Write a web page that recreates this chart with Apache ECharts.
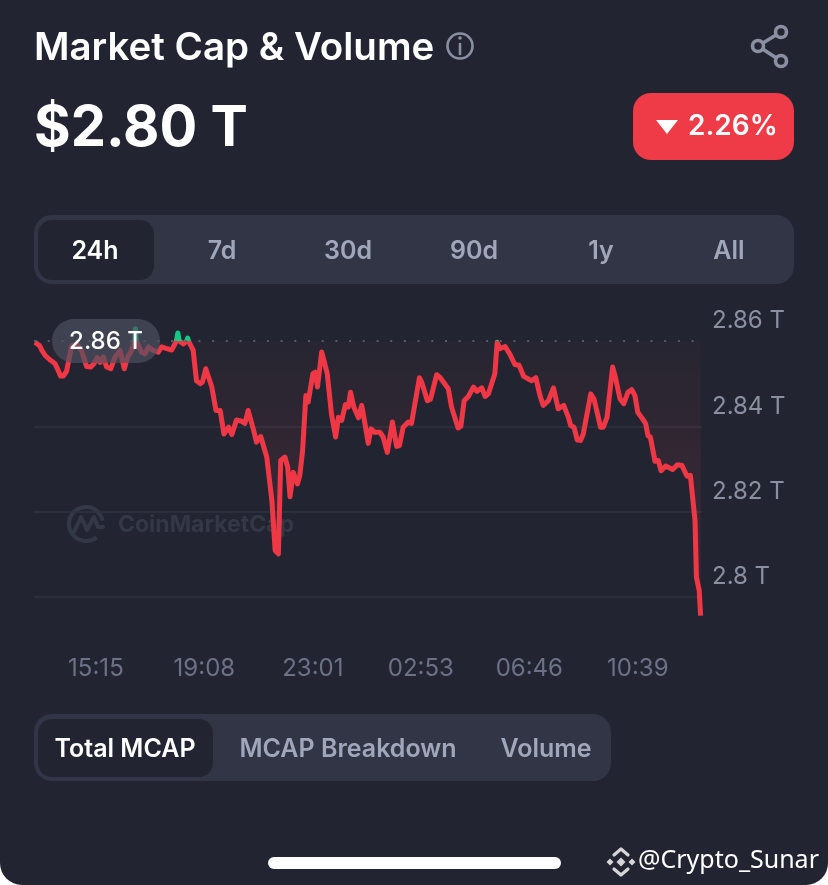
<!DOCTYPE html>
<html><head><meta charset="utf-8">
<style>html,body{margin:0;padding:0;background:#fff}#c{width:828px;height:885px;overflow:hidden;border-radius:0 0 22px 22px}</style>
<script src="https://cdn.jsdelivr.net/npm/echarts@6/dist/echarts.min.js"></script>
</head><body><div id="c"></div>
<script>
// minutes counted from 00:00 of the first day
const times = [784,794,799,806,816,827,834,839,845,852,858,863,874,884,895,904,911,918,924,931,938,947,956,967,976,983,990,998,1000,1002,1006,1013,1020,1028,1038,1049,1056,1067,1078,1088,1091,1094,1103,1110,1112,1114,1117,1124,1131,1139,1144,1151,1157,1164,1173,1182,1190,1200,1207,1217,1228,1235,1242,1253,1260,1269,1282,1293,1300,1307,1312,1321,1327,1332,1339,1348,1353,1359,1366,1371,1381,1386,1391,1400,1405,1412,1421,1430,1436,1443,1451,1457,1462,1469,1479,1486,1493,1500,1506,1514,1525,1532,1541,1552,1561,1567,1575,1586,1593,1610,1615,1627,1634,1647,1654,1672,1679,1693,1699,1706,1715,1726,1733,1744,1751,1758,1772,1777,1783,1794,1804,1815,1824,1834,1851,1860,1869,1876,1887,1898,1908,1920,1930,1935,1942,1949,1956,1962,1978,1985,1999,2005,2013,2025,2030,2041,2049,2058,2066,2073,2079,2091,2096,2101,2106,2116,2123,2129,2139,2154,2164,2174,2185,2192,2202,2205,2211,2214];
const marketCap = [2.8597,2.8589,2.8578,2.8566,2.8556,2.8547,2.8531,2.8518,2.8518,2.8529,2.8562,2.8589,2.8593,2.8578,2.8540,2.8539,2.8547,2.8561,2.8550,2.8562,2.8539,2.8535,2.8562,2.8578,2.8535,2.8562,2.8574,2.8600,2.8629,2.8600,2.8597,2.8574,2.8570,2.8586,2.8578,2.8574,2.8586,2.8582,2.8579,2.8600,2.8619,2.8600,2.8593,2.8600,2.8607,2.8600,2.8597,2.8578,2.8507,2.8500,2.8504,2.8535,2.8515,2.8492,2.8437,2.8437,2.8382,2.8398,2.8381,2.8415,2.8412,2.8407,2.8437,2.8394,2.8363,2.8376,2.8328,2.8226,2.8109,2.8101,2.8320,2.8328,2.8304,2.8235,2.8292,2.8265,2.8285,2.8343,2.8472,2.8457,2.8523,2.8527,2.8492,2.8574,2.8554,2.8523,2.8429,2.8375,2.8421,2.8414,2.8451,2.8445,2.8480,2.8445,2.8420,2.8449,2.8406,2.8360,2.8394,2.8386,2.8386,2.8375,2.8339,2.8410,2.8353,2.8355,2.8398,2.8410,2.8407,2.8514,2.8503,2.8460,2.8464,2.8521,2.8515,2.8488,2.8445,2.8396,2.8400,2.8460,2.8470,2.8492,2.8482,2.8490,2.8470,2.8476,2.8523,2.8597,2.8582,2.8587,2.8570,2.8545,2.8543,2.8517,2.8507,2.8514,2.8472,2.8449,2.8460,2.8490,2.8441,2.8449,2.8421,2.8402,2.8398,2.8368,2.8367,2.8382,2.8476,2.8464,2.8398,2.8398,2.8421,2.8539,2.8519,2.8464,2.8453,2.8480,2.8486,2.8472,2.8433,2.8415,2.8406,2.8378,2.8375,2.8318,2.8320,2.8296,2.8307,2.8299,2.8310,2.8308,2.8283,2.8285,2.8179,2.8046,2.8015,2.7956];
const xTicks = [915,1148,1381,1613,1846,2079];
const yLabels = [2.8,2.82,2.84,2.86];
const yLines = [2.8,2.82,2.84];
const baseline = 2.86;
const rangeTabs = ['24h','7d','30d','90d','1y','All'];
const rangeTabX = [95,222,348,474,601,729];
const metricTabs = ['Total MCAP','MCAP Breakdown','Volume'];
const metricTabX = [125,348,546];

const FONT = 'Inter, "Noto Sans", sans-serif';
const BG='#222531', PANEL='#323546', MUTED='#a1a7bb', GREY='#8a90a2', LOGO='#d6d6d6';
const txt=(text,x,y,fill,size,weight,align,z,family)=>({type:'text',z:z===undefined?10:z,style:{text,x,y,fill,font:`${weight} ${size}px ${family||FONT}`,textAlign:align||'center',textVerticalAlign:'middle'}});
const box=(x,y,w,h,r,fill,z)=>({type:'rect',z:z||5,shape:{x,y,width:w,height:h,r},style:{fill}});
const seg=(pts,stroke,lw,z)=>({type:'polyline',z:z===undefined?10:z,shape:{points:pts},style:{stroke,lineWidth:lw,fill:null,lineCap:'round',lineJoin:'round'}});
const ring=(cx,cy,r,stroke,lw,z)=>({type:'circle',z:z||10,shape:{cx,cy,r},style:{stroke,lineWidth:lw,fill:'none'}});
const diamond=(cx,cy,r,fill)=>({type:'polygon',z:10,shape:{points:[[cx,cy-r],[cx+r,cy],[cx,cy+r],[cx-r,cy]]},style:{fill}});

const graphic=[
  txt('Market Cap & Volume',34,48,'#fff',38.5,600,'left'),
  ring(460,46,12.5,GREY,2.6),
  seg([[460,44],[460,54]],GREY,2.6),
  {type:'circle',z:10,shape:{cx:460,cy:38,r:1.8},style:{fill:GREY}},
  seg([[781,32],[758,46],[781,61]],GREY,3.6),
  {type:'circle',z:11,shape:{cx:781,cy:32,r:5.5},style:{fill:BG,stroke:GREY,lineWidth:3.6}},
  {type:'circle',z:11,shape:{cx:758,cy:46,r:5.5},style:{fill:BG,stroke:GREY,lineWidth:3.6}},
  {type:'circle',z:11,shape:{cx:781,cy:61,r:5.5},style:{fill:BG,stroke:GREY,lineWidth:3.6}},
  txt('$2.80 T',34,129,'#fff',56,700,'left'),
  box(633,93,161,67,18,'#ef3a47'),
  {type:'polygon',z:10,shape:{points:[[656,120],[678,120],[667,134]]},style:{fill:'#fff'}},
  txt('2.26%',688,127,'#fff',28,600,'left'),
  box(34,215,760,69,18,PANEL),
  box(38,220,116,60,14,BG,6),
  box(34,714,577,67,18,PANEL),
  box(38,719,175,58,14,BG,6),
  box(268,857,293,12,6,'#fff'),
  txt('@Crypto_Sunar',638,861,'#fff',25,400,'left',10,'"Noto Sans"'),
  diamond(621,862,4.5,LOGO),diamond(610,862,3.5,LOGO),diamond(632,862,3.5,LOGO),
  seg([[614,855],[621,849],[628,855]],LOGO,3.2),
  seg([[614,869],[621,875],[628,869]],LOGO,3.2),
  // watermark, sits under the line
  txt('CoinMarketCap',118,525,'#343846',23,700,'left',0),
  {type:'arc',z:0,shape:{cx:86,cy:524,r:17,startAngle:0.9,endAngle:Math.PI*2-0.2,clockwise:true},style:{stroke:'#343846',lineWidth:4,fill:'none'}},
  seg([[73,534],[81,517],[87,530],[94,517],[98,527],[103,527]],'#343846',4,0),
  // current-value pill, drawn over the line
  box(52,319,108,44,22,'rgba(76,81,98,0.68)',50),
  txt('2.86 T',106,342,'#fff',24,500,'center',51)
];
rangeTabs.forEach((t,i)=>graphic.push(txt(t,rangeTabX[i],251,i===0?'#fff':MUTED,25,600)));
metricTabs.forEach((t,i)=>graphic.push(txt(t,metricTabX[i],749,i===0?'#fff':MUTED,25,600)));

const pad2=n=>String(n).padStart(2,'0');
const chart=echarts.init(document.getElementById('c'));
chart.setOption({
  backgroundColor:BG,
  animation:false,
  textStyle:{fontFamily:FONT},
  grid:{left:34,right:126,top:298.35,height:341.25},
  visualMap:{show:false,type:'piecewise',seriesIndex:0,dimension:1,
    pieces:[{min:baseline,max:2.87,color:'#16c784'},{min:2.79,max:baseline,color:'#ef3745'}]},
  xAxis:{type:'value',min:782,max:2217,
    axisLine:{show:false},axisTick:{show:false},splitLine:{show:false},
    axisLabel:{customValues:xTicks,margin:17,color:'#6c7186',fontSize:24,fontFamily:FONT,
      formatter:v=>pad2(Math.floor(v/60)%24)+':'+pad2(v%60)}},
  yAxis:{type:'value',position:'right',min:2.79,max:2.87,
    axisLine:{show:false},
    axisTick:{show:false,customValues:yLines},
    splitLine:{show:true,lineStyle:{color:'#2f3340',width:1.5}},
    axisLabel:{customValues:yLabels,margin:10,color:GREY,fontSize:24,fontFamily:FONT,
      verticalAlign:'bottom',padding:[0,0,8,0],
      formatter:v=>parseFloat(v.toFixed(2))+' T'}},
  series:[{type:'line',data:times.map((t,i)=>[t,marketCap[i]]),symbol:'none',smooth:false,z:3,
    lineStyle:{width:5,join:'round'},
    areaStyle:{origin:baseline,color:{type:'linear',x:0,y:0,x2:0,y2:1,colorStops:[
      {offset:0,color:'rgba(234,57,67,0.02)'},{offset:0.7,color:'rgba(234,57,67,0.17)'},{offset:1,color:'rgba(234,57,67,0.12)'}]}},
    markLine:{silent:true,symbol:'none',label:{show:false},
      lineStyle:{type:[2,11.7],color:'#565c6e',width:2},data:[{yAxis:baseline}]}
  }],
  graphic:{elements:graphic}
});
</script></body></html>
